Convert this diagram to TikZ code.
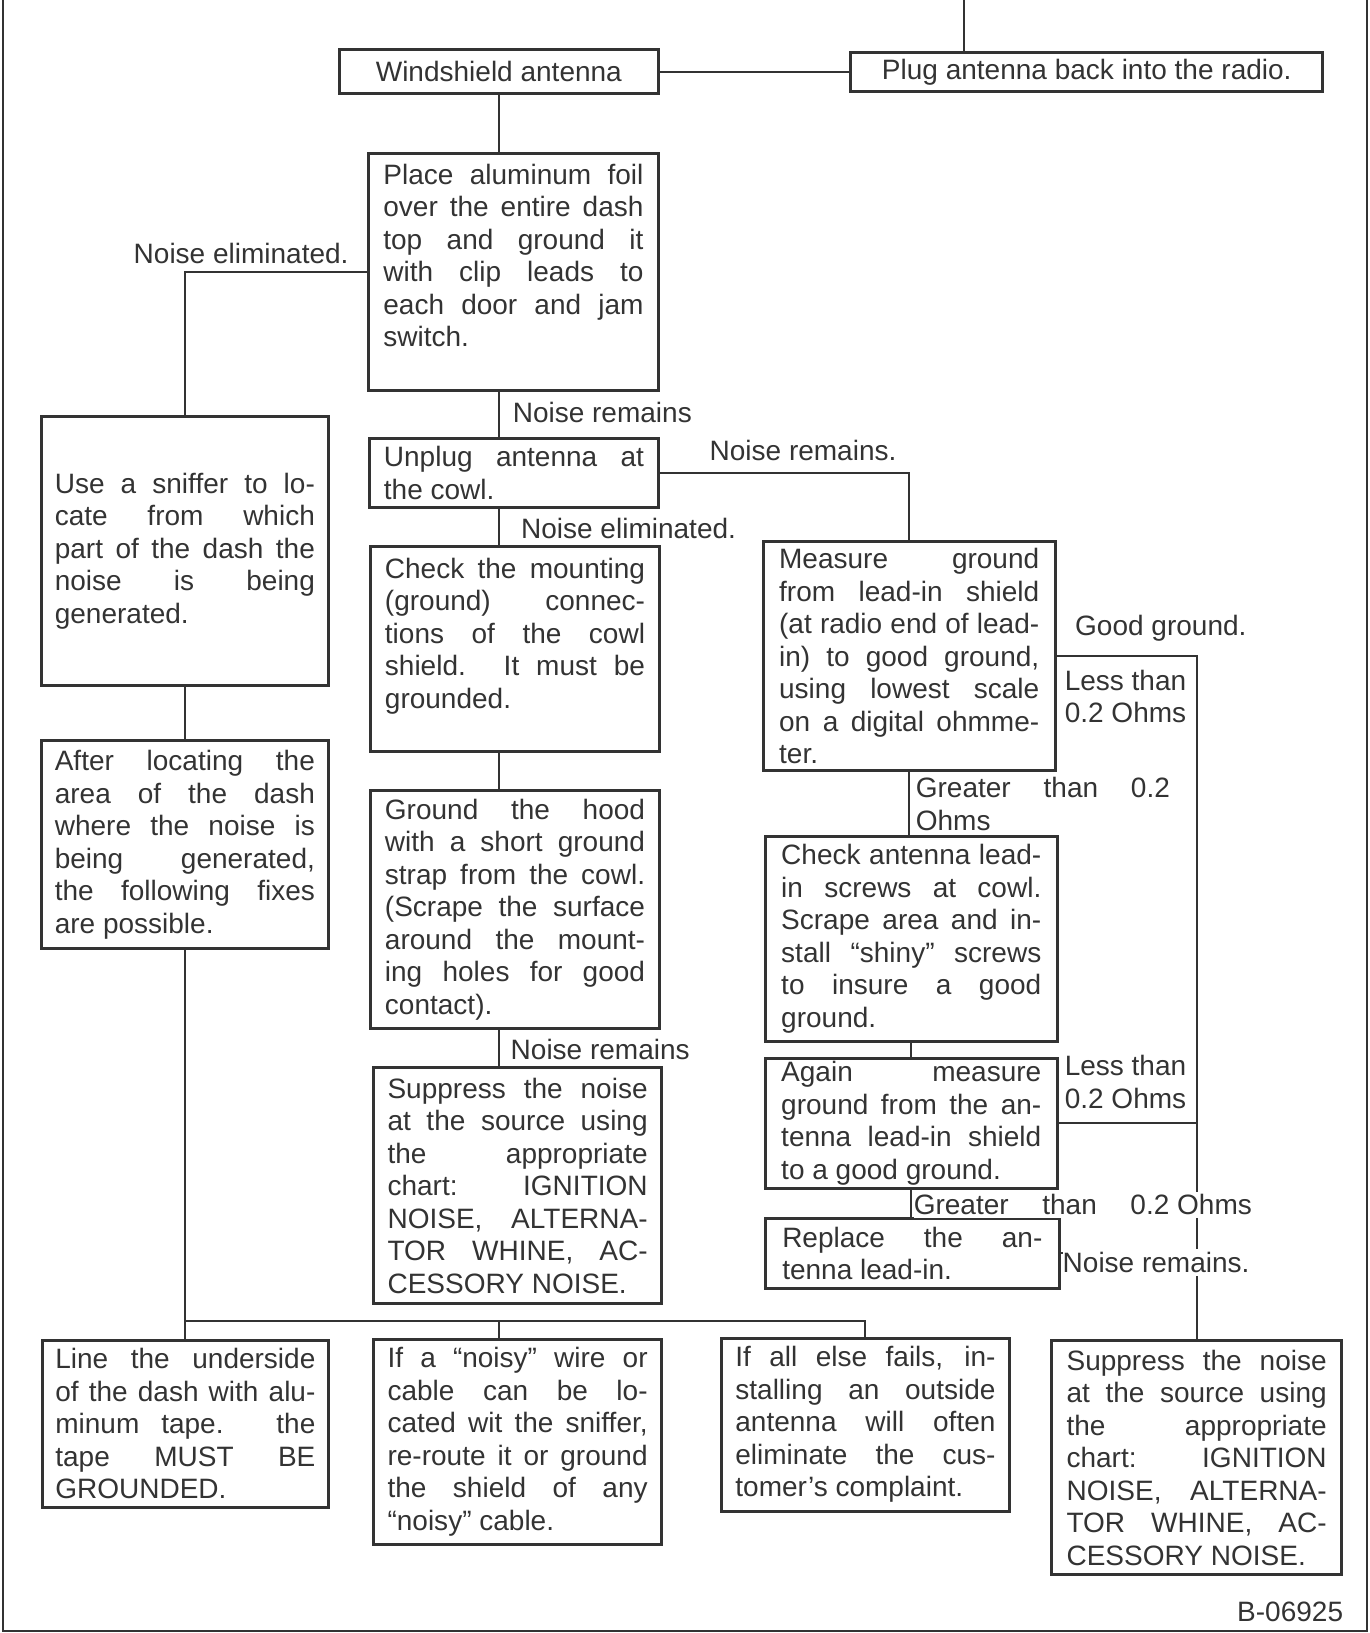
\documentclass[tikz,border=0pt]{standalone}
\usepackage{fontspec}
\setmainfont{Liberation Sans}
\definecolor{ink}{gray}{0.2}
\newcommand{\chartfont}{\fontsize{14}{16.24}\selectfont}
\tolerance=10000 \hbadness=10000 \hyphenpenalty=10000 \exhyphenpenalty=10000
\begin{document}
\begin{tikzpicture}[x=0.5205pt,y=-0.5205pt,
 box/.style 2 args={draw=ink,line width=1.5pt,inner sep=0pt,text width=130pt,align=justify,font=\chartfont,text=ink,
   minimum width=#1*0.5205pt,minimum height=#2*0.5205pt},
 tag/.style 2 args={draw=ink,line width=1.5pt,inner sep=0pt,align=center,font=\chartfont,text=ink,
   minimum width=#1*0.5205pt,minimum height=#2*0.5205pt},
 note/.style={inner sep=0pt,anchor=west,align=left,font=\chartfont,text=ink},
 cut/.style={note,fill=white,inner ysep=1.5pt},
 link/.style={draw=ink,line width=1pt}]
\useasboundingbox (0,0) rectangle (1315,1568);
\draw[link] (3,0) |- (1313,1566) -- (1313,0);
\coordinate (feed) at (926,0);
\coordinate (bus) at (0,1268);
% boxes
\node[tag={306}{42}] (wind) at (479,69) {Windshield antenna};
\node[tag={453}{38}] (plug) at (1043.5,69) {Plug antenna back into the radio.};
\node[box={278}{228}] (foil) at (493,261) {Place aluminum foil\linebreak over the entire dash\linebreak top and ground it\linebreak with clip leads to\linebreak each door and jam\linebreak switch.\newline\mbox{}};
\node[box={275}{258}] (sniffer) at (177.5,529) {Use a sniffer to lo-\linebreak cate from which\linebreak part of the dash the\linebreak noise is being\linebreak generated.};
\node[box={275}{200}] (locate) at (177.5,811) {After locating the\linebreak area of the dash\linebreak where the noise is\linebreak being generated,\linebreak the following fixes\linebreak are possible.};
\node[box={277}{66}] (unplug) at (493.5,454) {Unplug antenna at\linebreak the cowl.};
\node[box={277}{197}] (mounting) at (494.5,623.5) {Check the mounting\linebreak (ground) connec-\linebreak tions of the cowl\linebreak shield. It must be\linebreak grounded.\newline\mbox{}};
\node[box={277}{229}] (hood) at (494.5,873.5) {Ground the hood\linebreak with a short ground\linebreak strap from the cowl.\linebreak (Scrape the surface\linebreak around the mount-\linebreak ing holes for good\linebreak contact).};
\node[box={276}{227}] (suppress) at (497,1138.5) {Suppress the noise\linebreak at the source using\linebreak the appropriate\linebreak chart: IGNITION\linebreak NOISE, ALTERNA-\linebreak TOR WHINE, AC-\linebreak CESSORY NOISE.};
\node[box={280}{220}] (measure) at (873,630) {Measure ground\linebreak from lead-in shield\linebreak (at radio end of lead-\linebreak in) to good ground,\linebreak using lowest scale\linebreak on a digital ohmme-\linebreak ter.};
\node[box={280}{197}] (leadin) at (875,901.5) {Check antenna lead-\linebreak in screws at cowl.\linebreak Scrape area and in-\linebreak stall “shiny” screws\linebreak to insure a good\linebreak ground.};
\node[box={280}{125}] (again) at (875,1078.5) {Again measure\linebreak ground from the an-\linebreak tenna lead-in shield\linebreak to a good ground.};
\node[box={282}{67}] (replace) at (876,1203.5) {Replace the an-\linebreak tenna lead-in.};
\node[box={278}{225}] (suppressB) at (1149,1399.5) {Suppress the noise\linebreak at the source using\linebreak the appropriate\linebreak chart: IGNITION\linebreak NOISE, ALTERNA-\linebreak TOR WHINE, AC-\linebreak CESSORY NOISE.};
\node[box={274}{160}] (tape) at (178,1367) {Line the underside\linebreak of the dash with alu-\linebreak minum tape. the\linebreak tape MUST BE\linebreak GROUNDED.};
\node[box={276}{197}] (wire) at (497,1384.5) {If a “noisy” wire or\linebreak cable can be lo-\linebreak cated wit the sniffer,\linebreak re-route it or ground\linebreak the shield of any\linebreak “noisy” cable.};
\node[box={276}{166}] (outside) at (831,1368) {If all else fails, in-\linebreak stalling an outside\linebreak antenna will often\linebreak eliminate the cus-\linebreak tomer's complaint.};
% connectors
\draw[link] (wind) -- (plug);
\draw[link] (feed) -- (feed |- plug.north);
\draw[link] (wind.south) -- (wind.south |- foil.north);
\draw[link] (foil.west) -| (sniffer.north);
\draw[link] (sniffer) -- (locate);
\draw[link] (wind.south |- foil.south) -- (wind.south |- unplug.north);
\draw[link] (unplug.east) -| (measure.north);
\draw[link] (wind.south |- unplug.south) -- (wind.south |- mounting.north);
\draw[link] (wind.south |- mounting.south) -- (wind.south |- hood.north);
\draw[link] (wind.south |- hood.south) -- (wind.south |- suppress.north);
\draw[link] (measure.south) -- (measure.south |- leadin.north);
\draw[link] (leadin.south) -- (leadin.south |- again.north);
\draw[link] (again.south) -- (again.south |- replace.north);
\draw[link] (measure.east) -| (suppressB.north);
\draw[link] (again.east) -- (again.east -| suppressB.north);
\draw[link] (replace.east) -- (replace.east -| suppressB.north);
\draw[link] (locate.south) -- (locate.south |- bus) -| (outside.north);
\draw[link] (locate.south |- bus) -- (locate.south |- tape.north);
\draw[link] (wind.south |- bus) -- (wind.south |- wire.north);
% labels
\node[note] (l1) at (128,243) {Noise eliminated.};
\node[note] (l2) at (492,396) {Noise remains};
\node[note] (l3) at (681,433) {Noise remains.};
\node[note] (l4) at (500,507) {Noise eliminated.};
\node[note] (l5) at (1032,603) {Good ground.};
\node[note] (l6) at (1022,669) {Less than\\0.2 Ohms};
\node[note,text width=127pt,align=justify] (l7) at (879,772) {Greater than 0.2\linebreak Ohms};
\node[note] (l8) at (490,1008) {Noise remains};
\node[note] (l9) at (1022,1039) {Less than\\0.2 Ohms};
\node[cut] (l10) at (877,1157) {\hbox to 169pt{Greater\hfill than\hfill 0.2~Ohms}};
\node[cut] (l11) at (1020,1212) {Noise remains.};
\node[note,anchor=east] (code) at (1290,1548) {B-06925};
\end{tikzpicture}
\end{document}
